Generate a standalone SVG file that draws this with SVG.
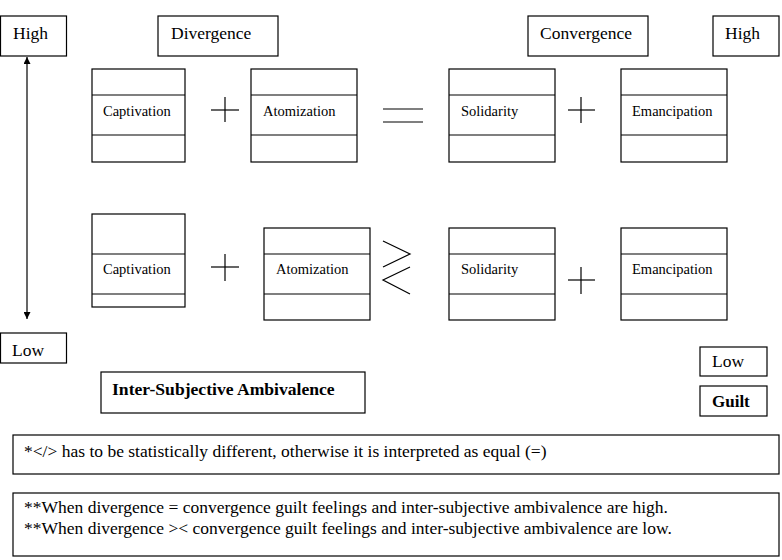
<svg xmlns="http://www.w3.org/2000/svg" width="782" height="560" viewBox="0 0 782 560">
<defs>
<marker id="ah" viewBox="0 0 10 10" refX="10" refY="5" markerWidth="7" markerHeight="7" orient="auto-start-reverse" markerUnits="userSpaceOnUse">
<path d="M0,0 L10,5 L0,10 z" fill="#000"/>
</marker>
<style>
rect{fill:#fff;stroke:#000;stroke-width:1.2}
line,polyline{stroke:#000;stroke-width:1.2;fill:none}
text{font-family:'Liberation Serif','Times New Roman',serif;fill:#000}
.t{font-size:17.5px}
.n{font-size:14.5px}
.b{font-size:17px;font-weight:bold}
.bl{font-size:17.6px;font-weight:bold}
</style>
</defs>
<rect width="782" height="560" style="stroke:none"/>

<g id="high-left"><rect x="0.5" y="16" width="66" height="40"/><text class="t" x="13" y="39">High</text></g>
<g id="divergence"><rect x="158" y="16" width="120" height="40"/><text class="t" x="171" y="39">Divergence</text></g>
<g id="convergence"><rect x="528" y="16" width="120" height="40"/><text class="t" x="540" y="39">Convergence</text></g>
<g id="high-right"><rect x="713" y="16" width="66" height="40"/><text class="t" x="725" y="39">High</text></g>

<g id="captivation-1"><rect x="92" y="69" width="93" height="93"/><line x1="92" y1="95" x2="185" y2="95"/><line x1="92" y1="135" x2="185" y2="135"/><text class="n" x="103" y="116">Captivation</text></g>
<g id="atomization-1"><rect x="251" y="69" width="106" height="93"/><line x1="251" y1="95" x2="357" y2="95"/><line x1="251" y1="135" x2="357" y2="135"/><text class="n" x="263" y="116">Atomization</text></g>
<g id="solidarity-1"><rect x="449" y="69" width="106" height="93"/><line x1="449" y1="95" x2="555" y2="95"/><line x1="449" y1="135" x2="555" y2="135"/><text class="n" x="461" y="116">Solidarity</text></g>
<g id="emancipation-1"><rect x="621" y="69" width="106" height="93"/><line x1="621" y1="95" x2="727" y2="95"/><line x1="621" y1="135" x2="727" y2="135"/><text class="n" x="632" y="116">Emancipation</text></g>

<g id="captivation-2"><rect x="92" y="214" width="93" height="93"/><line x1="92" y1="254" x2="185" y2="254"/><line x1="92" y1="294" x2="185" y2="294"/><text class="n" x="103" y="274">Captivation</text></g>
<g id="atomization-2"><rect x="264" y="228" width="106" height="92"/><line x1="264" y1="254" x2="370" y2="254"/><line x1="264" y1="294" x2="370" y2="294"/><text class="n" x="276" y="274">Atomization</text></g>
<g id="solidarity-2"><rect x="449" y="228" width="106" height="92"/><line x1="449" y1="254" x2="555" y2="254"/><line x1="449" y1="294" x2="555" y2="294"/><text class="n" x="461" y="274">Solidarity</text></g>
<g id="emancipation-2"><rect x="621" y="228" width="106" height="92"/><line x1="621" y1="254" x2="727" y2="254"/><line x1="621" y1="294" x2="727" y2="294"/><text class="n" x="632" y="274">Emancipation</text></g>

<g id="low-left"><rect x="0.5" y="333" width="66" height="30"/><text class="t" x="12" y="356">Low</text></g>
<g id="low-right"><rect x="700" y="347" width="67" height="29"/><text class="t" x="712" y="367">Low</text></g>
<g id="guilt"><rect x="700" y="386" width="67" height="30"/><text class="b" x="712" y="407">Guilt</text></g>
<g id="ambivalence"><rect x="101" y="372" width="264" height="41"/><text class="bl" x="112" y="395">Inter-Subjective Ambivalence</text></g>

<g id="note-1"><rect x="13" y="435" width="766" height="39"/><text class="t" x="24" y="457">*&lt;/&gt; has to be statistically different, otherwise it is interpreted as equal (=)</text></g>
<g id="note-2"><rect x="13" y="493" width="766" height="63"/><text class="t" x="24" y="513">**When divergence = convergence guilt feelings and inter-subjective ambivalence are high.</text><text class="t" x="24" y="534">**When divergence &gt;&lt; convergence guilt feelings and inter-subjective ambivalence are low.</text></g>

<g id="connectors">
<line x1="27" y1="57" x2="27" y2="319" marker-start="url(#ah)" marker-end="url(#ah)"/>
<line x1="211" y1="110" x2="239" y2="110"/><line x1="225" y1="97" x2="225" y2="122"/>
<line x1="383" y1="109" x2="423" y2="109"/><line x1="383" y1="122" x2="423" y2="122"/>
<line x1="568" y1="110" x2="595" y2="110"/><line x1="581" y1="97" x2="581" y2="123"/>
<line x1="211" y1="267" x2="239" y2="267"/><line x1="225" y1="254" x2="225" y2="281"/>
<polyline points="383,241 410,254 383,267"/>
<polyline points="410,267 383,280 410,294"/>
<line x1="568" y1="280" x2="595" y2="280"/><line x1="581" y1="267" x2="581" y2="294"/>
</g>
</svg>
